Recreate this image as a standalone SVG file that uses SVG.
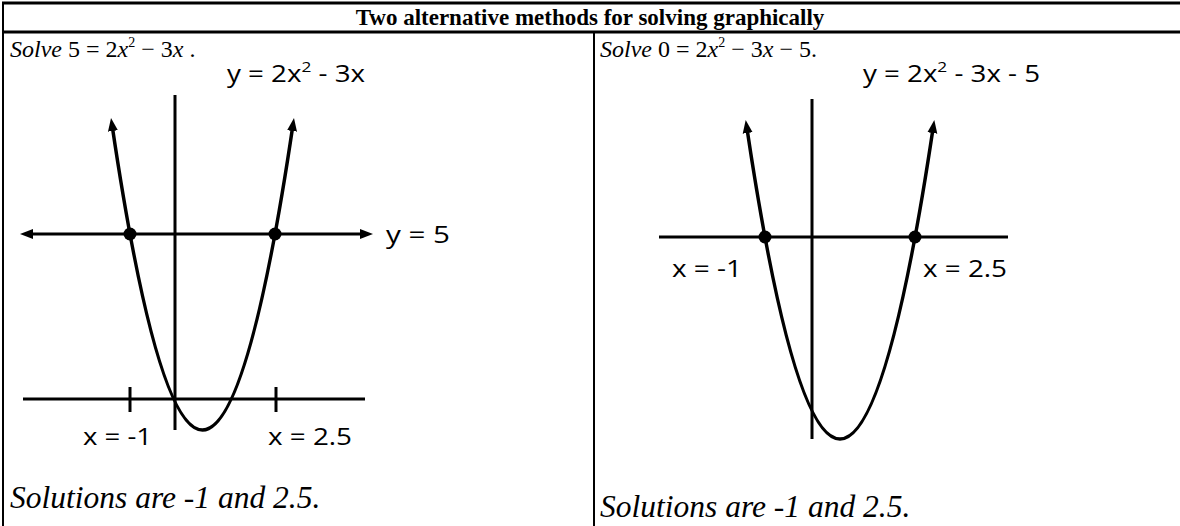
<svg xmlns="http://www.w3.org/2000/svg" width="1180" height="526" viewBox="0 0 1180 526">
<defs>
<marker id="ah" markerUnits="userSpaceOnUse" viewBox="0 0 13 12" markerWidth="13" markerHeight="12" refX="5" refY="6" orient="auto-start-reverse">
<path d="M0,1 L13,6 L0,11 z" fill="#000"/>
</marker>
</defs>
<style>
.ser{font-family:"Liberation Serif","Times New Roman",serif;fill:#000}
.it{font-style:italic}
.lab{font-family:"Open Sans","Liberation Sans",sans-serif;font-size:24px;fill:#000}
.ax{stroke:#000;stroke-width:3;fill:none}
.cv{stroke:#000;stroke-width:3.5;fill:none}
.tb{stroke:#000;stroke-width:3;fill:none}
.tv{stroke:#000;stroke-width:2;fill:none}
</style>
<rect width="1180" height="526" fill="#fff"/>
<g id="table">
<line x1="2" y1="3" x2="1180" y2="3" class="tb"/>
<line x1="2" y1="32" x2="1180" y2="32" class="tb"/>
<line x1="3" y1="2" x2="3" y2="526" class="tv"/>
<line x1="594" y1="32" x2="594" y2="526" class="tv"/>
<text class="ser" x="590" y="25" text-anchor="middle" font-weight="bold" font-size="23">Two alternative methods for solving graphically</text>
</g>
<g id="left-cell">
<text class="ser" x="10" y="57" font-size="24"><tspan class="it">Solve</tspan>  5 = 2<tspan class="it">x</tspan><tspan dy="-10" font-size="14">2</tspan><tspan dy="10"> − 3</tspan><tspan class="it">x</tspan> .</text>
<text class="ser it" x="10" y="508" font-size="31.5">Solutions are -1 and 2.5.</text>
</g>
<g id="right-cell">
<text class="ser" x="600" y="57" font-size="24"><tspan class="it">Solve</tspan>  0 = 2<tspan class="it">x</tspan><tspan dy="-10" font-size="14">2</tspan><tspan dy="10"> − 3</tspan><tspan class="it">x</tspan> − 5.</text>
<text class="ser it" x="600" y="517" font-size="31.5">Solutions are -1 and 2.5.</text>
</g>
<g id="left-graph">
<line class="ax" x1="175" y1="95" x2="175" y2="430"/>
<line class="ax" x1="28" y1="234" x2="365" y2="234" marker-start="url(#ah)" marker-end="url(#ah)"/>
<line class="ax" x1="23" y1="399" x2="365" y2="399"/>
<line class="ax" x1="130" y1="387" x2="130" y2="412"/>
<line class="ax" x1="276" y1="387" x2="276" y2="412"/>
<path class="cv" d="M112.2,126 Q202.5,734 292.8,126" marker-start="url(#ah)" marker-end="url(#ah)"/>
<circle cx="130" cy="234" r="6.5"/>
<circle cx="275" cy="234" r="6.5"/>
<text class="lab" x="227" y="82" textLength="138" lengthAdjust="spacingAndGlyphs">y = 2x<tspan dy="-10" font-size="15">2</tspan><tspan dy="10"> - 3x</tspan></text>
<text class="lab" x="386" y="243" textLength="64" lengthAdjust="spacingAndGlyphs">y = 5</text>
<text class="lab" x="83" y="445" textLength="69" lengthAdjust="spacingAndGlyphs">x = -1</text>
<text class="lab" x="268" y="445" textLength="84" lengthAdjust="spacingAndGlyphs">x = 2.5</text>
</g>
<g id="right-graph">
<line class="ax" x1="812" y1="99" x2="812" y2="439"/>
<line class="ax" x1="659" y1="237" x2="1008" y2="237"/>
<path class="cv" d="M746.9,128 Q840,750 933.1,128" marker-start="url(#ah)" marker-end="url(#ah)"/>
<circle cx="765" cy="237" r="6.5"/>
<circle cx="915" cy="237" r="6.5"/>
<text class="lab" x="863" y="82" textLength="177" lengthAdjust="spacingAndGlyphs">y = 2x<tspan dy="-10" font-size="15">2</tspan><tspan dy="10"> - 3x - 5</tspan></text>
<text class="lab" x="672" y="277" textLength="70" lengthAdjust="spacingAndGlyphs">x = -1</text>
<text class="lab" x="923" y="277" textLength="84" lengthAdjust="spacingAndGlyphs">x = 2.5</text>
</g>
</svg>
